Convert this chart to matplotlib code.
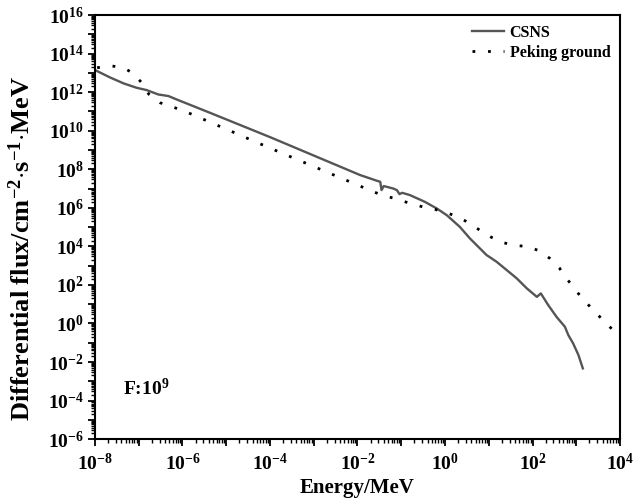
import numpy as np
import matplotlib
matplotlib.use("Agg")
import matplotlib.pyplot as plt
from matplotlib.ticker import LogLocator, FuncFormatter, NullFormatter

plt.rcParams['font.family'] = ['Liberation Serif', 'DejaVu Serif']
plt.rcParams['font.weight'] = 'bold'
plt.rcParams['mathtext.fontset'] = 'custom'
plt.rcParams['mathtext.rm'] = 'Liberation Serif:bold'
plt.rcParams['mathtext.it'] = 'Liberation Serif:bold'
plt.rcParams['mathtext.bf'] = 'Liberation Serif:bold'
plt.rcParams['mathtext.default'] = 'rm'

# CSNS spectrum (log10 energy / MeV, log10 flux)
csns_logE = [-8.0, -7.66, -7.35, -7.05, -6.82, -6.55, -6.32, -6.13, -5.37, -4.0,
             -1.94, -1.55, -1.48, -1.45, -1.40, -1.18, -1.10, -1.04, -0.98, -0.80,
             -0.46, -0.19, 0.04, 0.34, 0.57, 0.80, 0.95, 1.18, 1.41, 1.64,
             1.87, 2.10, 2.19, 2.36, 2.55, 2.74, 2.82, 2.93, 3.05, 3.15]
csns_logF = [13.15, 12.77, 12.46, 12.23, 12.11, 11.88, 11.80, 11.62, 10.93, 9.67,
             7.70, 7.40, 7.35, 6.92, 7.13, 7.00, 6.92, 6.71, 6.78, 6.66,
             6.31, 5.97, 5.62, 5.01, 4.41, 3.89, 3.55, 3.20, 2.77, 2.34,
             1.82, 1.38, 1.56, 0.95, 0.34, -0.17, -0.61, -1.04, -1.64, -2.33]

# Peking ground spectrum
peking_logE = [-7.95, -7.66, -7.37, -7.14, -6.93, -6.77, -6.51, -6.23, -5.96, -5.69,
               -4.0, -1.90, -1.64, -1.37, -1.08, -0.80, -0.51, -0.23, 0.05, 0.32,
               0.57, 0.80, 1.07, 1.33, 1.62, 1.92, 2.17, 2.40, 2.61, 2.78,
               2.95, 3.14, 3.34, 3.54, 3.75, 3.96, 4.0]
peking_logF = [13.27, 13.37, 13.29, 13.0, 12.49, 11.9, 11.45, 11.24, 11.02, 10.76,
               9.1, 7.09, 6.83, 6.62, 6.44, 6.23, 6.05, 5.92, 5.74, 5.5,
               5.19, 4.83, 4.46, 4.19, 4.05, 3.98, 3.75, 3.37, 2.89, 2.34,
               1.82, 1.30, 0.81, 0.34, -0.14, -0.61, -0.70]

csns_E = np.power(10.0, csns_logE)
csns_F = np.power(10.0, csns_logF)
peking_E = np.power(10.0, peking_logE)
peking_F = np.power(10.0, peking_logF)

fig = plt.figure(figsize=(6.33, 5.03), dpi=100)
ax = fig.add_axes([0.150, 0.127, 0.8295, 0.843])

ax.plot(csns_E, csns_F, color='#555555', lw=1.7, label='CSNS')
ax.plot(peking_E, peking_F, color='black', lw=2.0, linestyle=(0, (1, 4.6)),
        label='Peking ground')

ax.set_xscale('log')
ax.set_yscale('log')
ax.set_xlim(1e-8, 1e4)
ax.set_ylim(1e-6, 1e16)

def fmt_even(v, pos):
    e = int(round(np.log10(v)))
    if e % 2 != 0:
        return ''
    return r'$10^{%d}$' % e

for axis in (ax.xaxis, ax.yaxis):
    axis.set_major_locator(LogLocator(base=10, subs=(1.0,), numticks=100))
    axis.set_minor_locator(LogLocator(base=10, subs=np.arange(2, 10), numticks=100))
    axis.set_major_formatter(FuncFormatter(fmt_even))
    axis.set_minor_formatter(NullFormatter())

ax.tick_params(which='major', direction='out', length=5, width=1.3, labelsize=14)
ax.tick_params(axis='y', which='major', pad=3)
ax.tick_params(axis='x', which='major', pad=5)
ax.tick_params(which='minor', direction='out', length=3, width=1.0)
for s in ax.spines.values():
    s.set_linewidth(1.5)

ax.set_xlabel('Energy/MeV', fontsize=15, fontweight='bold', labelpad=3)
ax.set_ylabel(r'Differential flux/cm$^{-2}$$\cdot$s$^{-1}$$\cdot$MeV', fontsize=19,
              fontweight='bold')
ax.yaxis.set_label_coords(-0.115, 0.45)

ax.text(0.053, 0.12, r'F:10$^{9}$', transform=ax.transAxes, fontsize=14,
        fontweight='bold', va='center', ha='left')

leg = ax.legend(loc='upper right', frameon=False, fontsize=11.5, handlelength=2.0,
                handletextpad=0.35, borderaxespad=0.2, labelspacing=0.25)

fig.savefig('out.png', dpi=100)
